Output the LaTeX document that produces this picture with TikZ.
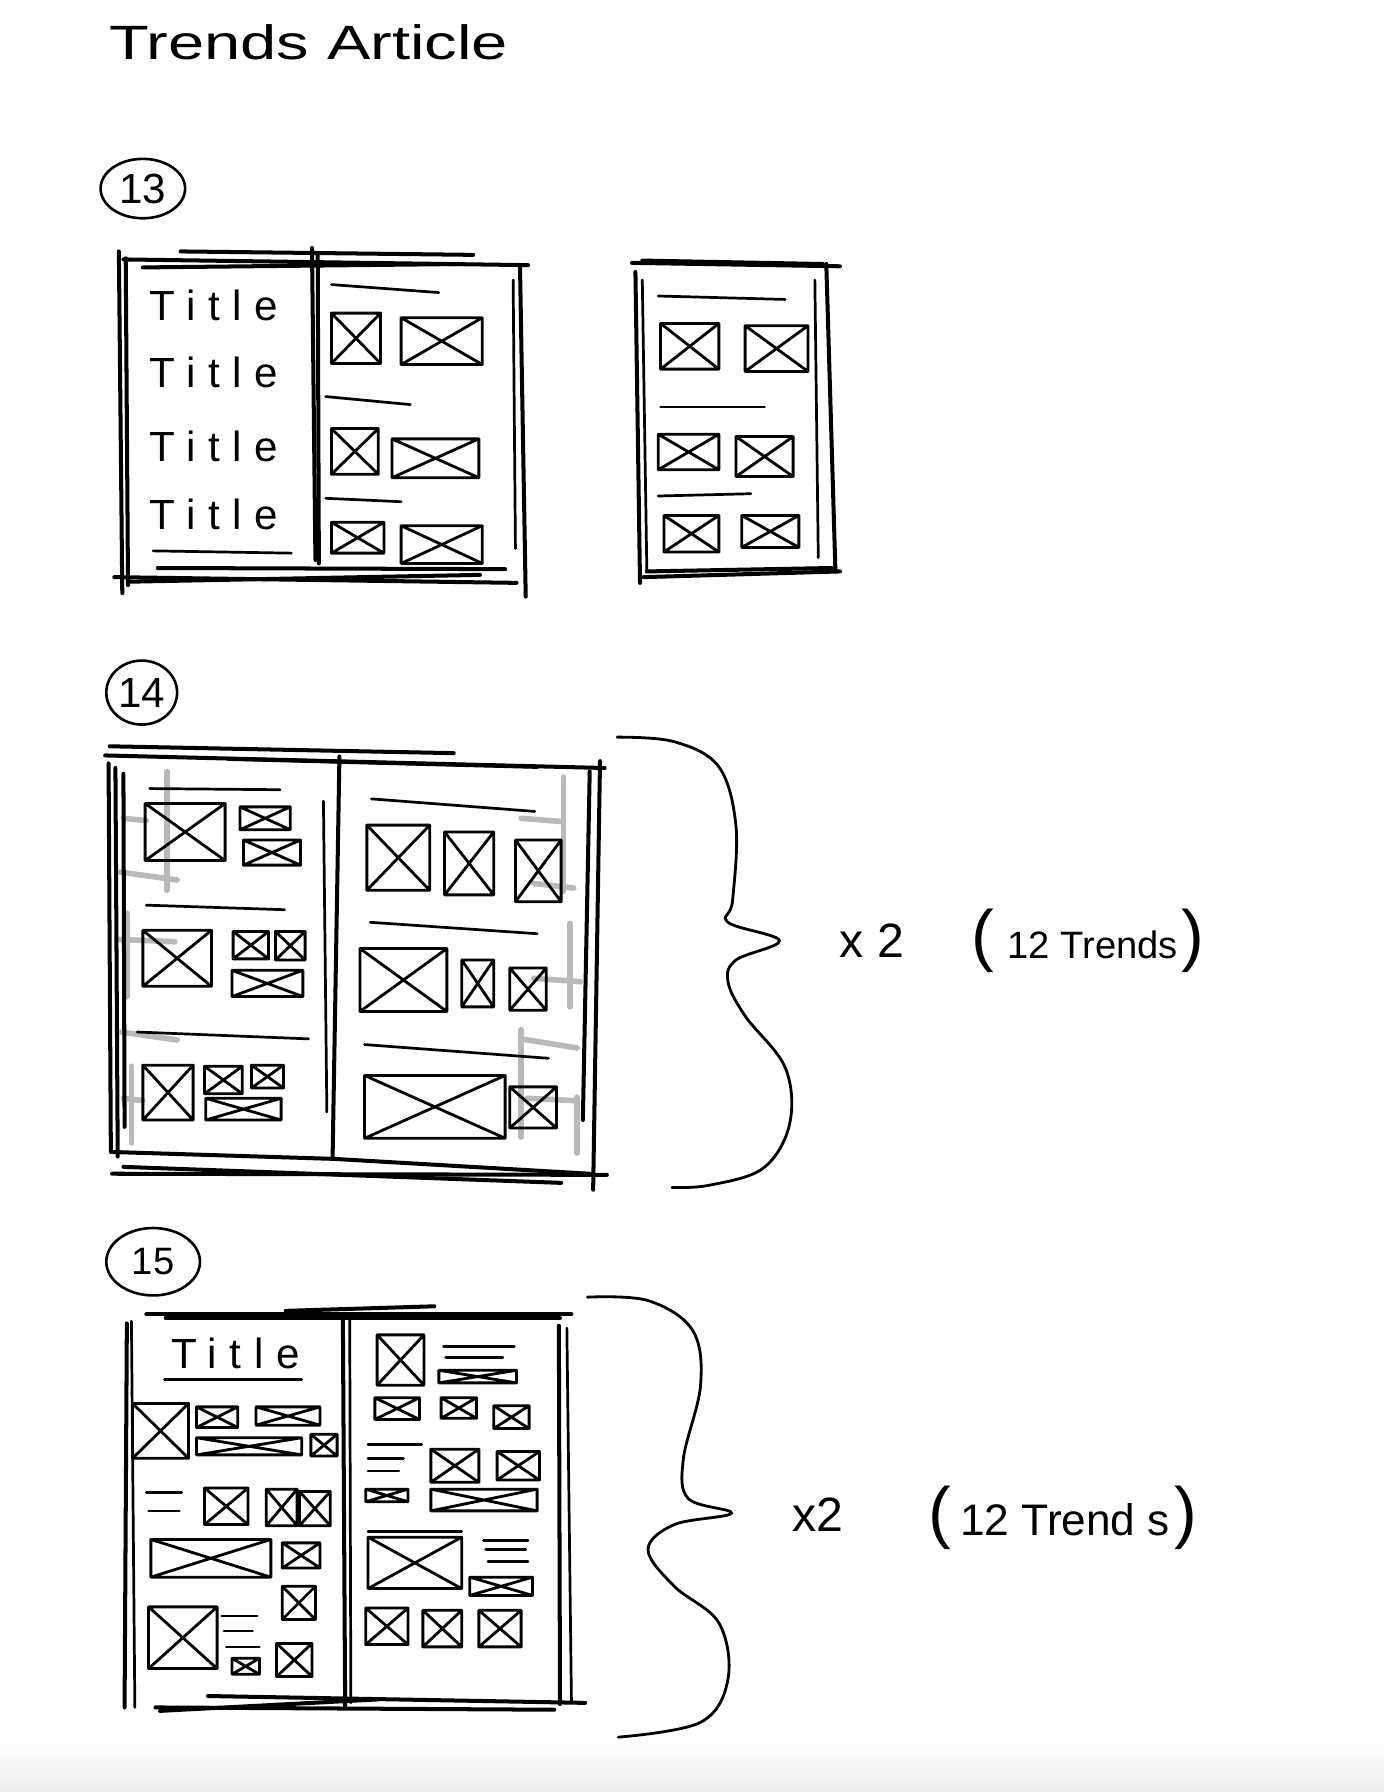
\documentclass[tikz,border=0pt]{standalone}
\usepackage{fontspec}
\usetikzlibrary{shapes.geometric}
\newfontfamily\handfont{Liberation Sans}
\newfontfamily\handwide[LetterSpace=30]{Liberation Sans}

\tikzset{
  phbox/.style={line width=1.4pt, line cap=round, line join=round},
  frame/.style={line width=2pt, line cap=round},
  rule/.style={line width=1.35pt, line cap=round},
  guide/.style={line width=2.8pt, gray!55, line cap=round},
  hand/.style={inner sep=0pt, font=\handfont\fontsize{18}{18}\selectfont},
  titletxt/.style={inner sep=0pt, font=\handwide\fontsize{21}{21}\selectfont},
  numlbl/.style={ellipse, draw, line width=1.3pt, inner sep=0pt,
    font=\handfont\fontsize{21}{21}\selectfont},
  brace/.style={line width=1.4pt, line cap=round}
}
\newcommand{\xbox}[4]{\draw[phbox] (#1,#2) rectangle (#3,#4) (#1,#2) -- (#3,#4) (#1,#4) -- (#3,#2);}
\newcommand{\bigparen}[1]{{\fontsize{34}{34}\selectfont #1}}

\begin{document}
\begin{tikzpicture}[x=0.02cm,y=-0.02cm]
\useasboundingbox (0,0) rectangle (1211,1568);
\shade[top color=white, bottom color=gray!14] (0,1522) rectangle (1211,1568);

\node[hand, font=\handfont\fontsize{24}{24}\selectfont] (title) at (270,37) {\scalebox{1.35}[1]{Trends Article}};

% ---- 13 ----
\node[numlbl, minimum width=1.48cm, minimum height=1.04cm] (n13) at (125,165) {13};

\draw[frame] (108,227) -- (462,232);
\draw[frame] (158,220) -- (414,223);
\draw[frame] (125,234) -- (405,231);
\draw[frame] (104,220) -- (107,519);
\draw[frame] (110,226) -- (112,512);
\draw[frame] (273,217) -- (276,490);
\draw[frame] (278,222) -- (279,493);
\draw[frame] (455,233) -- (460,522);
\draw[rule] (449,245) -- (451,480);
\draw[frame] (100,505) -- (452,510);
\draw[frame] (138,497) -- (442,498);
\draw[frame] (112,509) -- (420,503);

\foreach \y [count=\i] in {267,326,391,450}
  {\node[titletxt] (t13\i) at (187,\y) {Title};}
\draw[rule] (134,482) -- (255,484);

\draw[rule] (290,249) -- (384,256);
\draw[rule] (285,347) -- (359,354);
\draw[rule] (285,436) -- (351,439);
\foreach \a/\b/\c/\d in {290/274/333/318, 351/278/422/319, 290/375/331/415,
    343/384/419/418, 290/457/336/484, 351/460/422/493}
  {\xbox{\a}{\b}{\c}{\d}}

% 13 mobile
\draw[frame] (553,230) -- (735,233);
\draw[frame] (562,228) -- (720,231);
\draw[frame] (556,238) -- (560,510);
\draw[rule] (562,245) -- (566,500);
\draw[frame] (723,231) -- (731,500);
\draw[rule] (713,245) -- (716,488);
\draw[frame] (563,505) -- (735,500);
\draw[frame] (566,500) -- (728,497);

\draw[rule] (576,259) -- (687,262);
\draw[rule] (578,356) -- (669,356);
\draw[rule] (576,434) -- (657,432);
\foreach \a/\b/\c/\d in {578/283/629/323, 652/285/707/325, 576/380/629/411,
    644/382/694/417, 581/451/629/483, 649/451/699/479}
  {\xbox{\a}{\b}{\c}{\d}}

% ---- 14 ----
\node[numlbl, minimum width=1.24cm, minimum height=1.12cm] (n14) at (124,606) {14};

\foreach \a/\b/\c/\d in {146/675/146/779, 108/716/128/718, 105/763/155/770,
    111/799/111/872, 103/822/153/824, 106/903/155/910, 115/933/115/1000,
    108/961/125/963, 493/680/493/780, 456/716/493/719, 467/773/502/777,
    499/808/499/881, 467/856/508/859, 456/901/456/995, 456/909/505/917,
    505/960/505/1009, 461/961/502/963}
  {\draw[guide] (\a,\b) -- (\c,\d);}

\draw[frame] (92,661) -- (529,672);
\draw[frame] (96,653) -- (397,659);
\draw[frame] (200,664) -- (470,671);
\draw[frame] (95,668) -- (97,1008);
\draw[frame] (101,672) -- (103,1012);
\draw[frame] (108,677) -- (109,986);
\draw[frame] (297,662) -- (291,1014);
\draw[rule] (283,701) -- (286,973);
\draw[frame] (525,666) -- (519,1041);
\draw[frame] (516,675) -- (510,980);
\draw[frame] (99,1008) -- (292,1014) -- (516,1027);
\draw[frame] (98,1027) -- (531,1028);
\draw[frame] (108,1021) -- (491,1035);

\draw[rule] (131,690) -- (245,691);
\draw[rule] (128,792) -- (249,796);
\draw[rule] (120,903) -- (270,909);
\draw[rule] (325,699) -- (468,710);
\draw[rule] (324,807) -- (470,817);
\draw[rule] (319,914) -- (480,926);
\foreach \a/\b/\c/\d in {127/703/197/753, 210/706/254/726, 213/735/263/757,
    125/814/185/863, 204/815/235/839, 241/815/267/840, 203/849/265/872,
    125/932/169/980, 179/933/212/957, 220/932/248/952, 180/961/246/980,
    321/722/376/779, 389/728/432/783, 451/735/491/789, 315/830/391/885,
    404/840/432/881, 446/847/478/884, 319/941/442/996, 446/951/487/987}
  {\xbox{\a}{\b}{\c}{\d}}

\draw[brace] plot[smooth, tension=0.6] coordinates {(540,645) (590,649) (629,671)
  (644,723) (641,788) (637,807) (682,823) (644,840) (637,859) (652,889)
  (687,934) (691,983) (668,1022) (621,1037) (588,1039)};
\node[hand, font=\handfont\fontsize{24}{24}\selectfont] (rep14) at (763,823) {x 2};
\node[hand, font=\handfont\fontsize{19}{19}\selectfont] (cnt14) at (952,823) {\bigparen{(}\hspace{0.35em}12 Trends\hspace{0.1em}\bigparen{)}};

% ---- 15 ----
\node[numlbl, minimum width=1.64cm, minimum height=1.18cm, font=\handfont\fontsize{19}{19}\selectfont] (n15) at (134,1104) {15};

\draw[frame] (128,1150) -- (500,1150);
\draw[frame] (145,1153) -- (490,1153);
\draw[frame] (250,1147) -- (380,1143);
\draw[frame] (109,1494) -- (111,1158);
\draw[rule] (115,1156) -- (118,1494);
\draw[frame] (300,1151) -- (302,1494);
\draw[rule] (306,1155) -- (307,1490);
\draw[frame] (489,1160) -- (490,1491);
\draw[rule] (496,1162) -- (500,1488);
\draw[frame] (182,1484) -- (512,1490);
\draw[frame] (136,1494) -- (485,1496);
\draw[frame] (140,1497) -- (330,1487);

\node[titletxt] (t15) at (206,1184) {Title};
\draw[rule] (144,1207) -- (264,1207);
\foreach \a/\b/\c/\d in {128/1306/159/1306, 130/1322/157/1322,
    194/1414/225/1414, 196/1427/221/1427, 198/1441/227/1441,
    388/1178/450/1178, 390/1188/440/1188,
    322/1264/369/1264, 322/1276/353/1276, 322/1287/349/1287,
    322/1340/404/1340, 423/1348/462/1348, 425/1356/460/1356, 427/1366/462/1366}
  {\draw[rule] (\a,\b) -- (\c,\d);}
\foreach \a/\b/\c/\d in {116/1228/165/1276, 172/1231/208/1249, 224/1231/280/1247,
    172/1258/264/1273, 272/1255/295/1274, 179/1302/217/1334, 233/1303/260/1335,
    262/1305/289/1335, 132/1347/237/1380, 247/1350/280/1372, 247/1388/276/1417,
    130/1406/190/1460, 203/1451/227/1465, 242/1438/273/1467,
    330/1168/371/1212, 384/1199/452/1210, 328/1223/367/1242, 386/1223/417/1241,
    432/1230/463/1250, 377/1268/419/1297, 435/1270/472/1295, 320/1303/357/1314,
    377/1303/470/1322, 322/1345/404/1390, 411/1380/466/1396, 320/1407/357/1439,
    370/1409/404/1441, 419/1409/456/1441}
  {\xbox{\a}{\b}{\c}{\d}}

\draw[brace] plot[smooth, tension=0.6] coordinates {(514,1135) (567,1138) (606,1164)
  (613,1212) (598,1276) (602,1311) (640,1324) (590,1334) (567,1356) (590,1388)
  (629,1420) (637,1469) (613,1507) (541,1520)};
\node[hand, font=\handfont\fontsize{24}{24}\selectfont] (rep15) at (716,1325) {x2};
\node[hand, font=\handfont\fontsize{22}{22}\selectfont] (cnt15) at (930,1328) {\bigparen{(}\hspace{0.2em}12 Trend s\hspace{0.1em}\bigparen{)}};
\end{tikzpicture}
\end{document}
